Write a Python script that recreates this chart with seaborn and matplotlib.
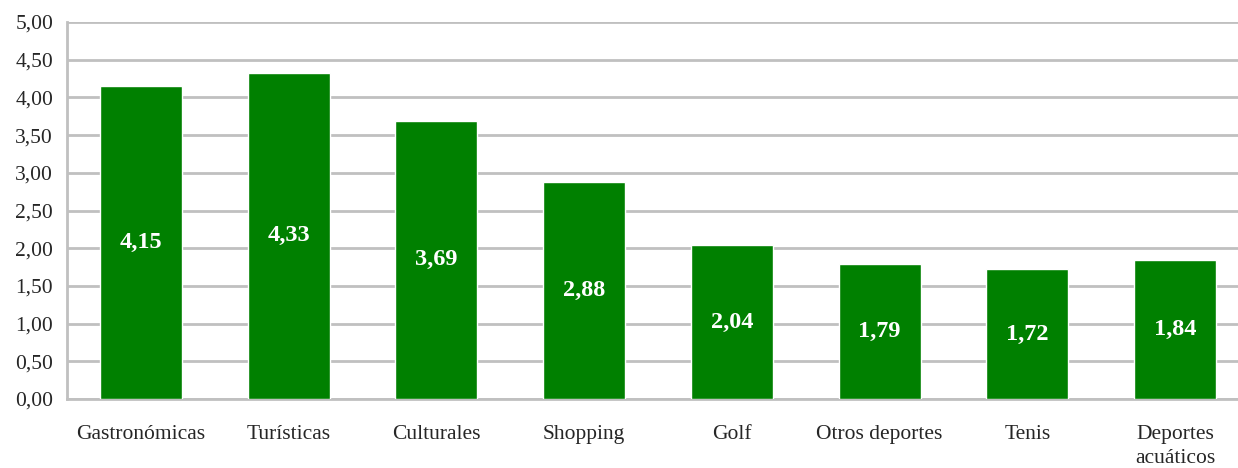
import numpy as np
import pandas as pd
import seaborn as sns
import matplotlib.pyplot as plt
from matplotlib.ticker import FixedLocator, FuncFormatter

categories = ['Gastronómicas', 'Turísticas', 'Culturales', 'Shopping', 'Golf',
              'Otros deportes', 'Tenis', 'Deportes\nacuáticos']
values = [4.15, 4.33, 3.69, 2.88, 2.04, 1.79, 1.72, 1.84]

df = pd.DataFrame({'categoria': categories, 'valor': values})

sns.set_style('white')
plt.rcParams['font.family'] = ['Liberation Serif', 'DejaVu Serif']

fig = plt.figure(figsize=(12.38, 4.68), dpi=100)
# the plot area runs a bit past the right edge of the picture
ax = fig.add_axes([0.0541, 0.1474, 0.9548, 0.8056])

sns.barplot(data=df, x='categoria', y='valor', color='#008000', saturation=1,
            width=0.555, ax=ax, zorder=3)

ax.set_ylim(0, 5)
ax.set_xlim(-0.5, len(categories) - 0.5)
ax.set_yticks(np.arange(0, 5.01, 0.5))
ax.yaxis.set_major_formatter(FuncFormatter(lambda v, p: f'{v:.2f}'.replace('.', ',')))
ax.yaxis.grid(True, color='#c0c0c0', linewidth=2, zorder=0)
ax.set_axisbelow(True)
ax.set_xlabel('')
ax.set_ylabel('')

for s in ['top', 'right']:
    ax.spines[s].set_visible(False)
for s in ['left', 'bottom']:
    ax.spines[s].set_color('#c0c0c0')
    ax.spines[s].set_linewidth(2)

ax.tick_params(axis='y', length=6, width=2, color='#c0c0c0', labelsize=15.5, pad=4)
ax.tick_params(axis='x', which='major', length=0, labelsize=15.5, pad=19)
ax.xaxis.set_minor_locator(FixedLocator(np.arange(-0.5, len(categories), 1.0)))
ax.tick_params(axis='x', which='minor', length=7, width=2, color='#c0c0c0')
for lbl in ax.get_xticklabels():
    lbl.set_linespacing(1.35)

for i, v in enumerate(values):
    ax.text(i, v / 2, f'{v:.2f}'.replace('.', ','), ha='center', va='center',
            color='white', fontsize=17.5, fontweight='bold', zorder=4)

fig.savefig('out.png', dpi=100)
plt.close(fig)
